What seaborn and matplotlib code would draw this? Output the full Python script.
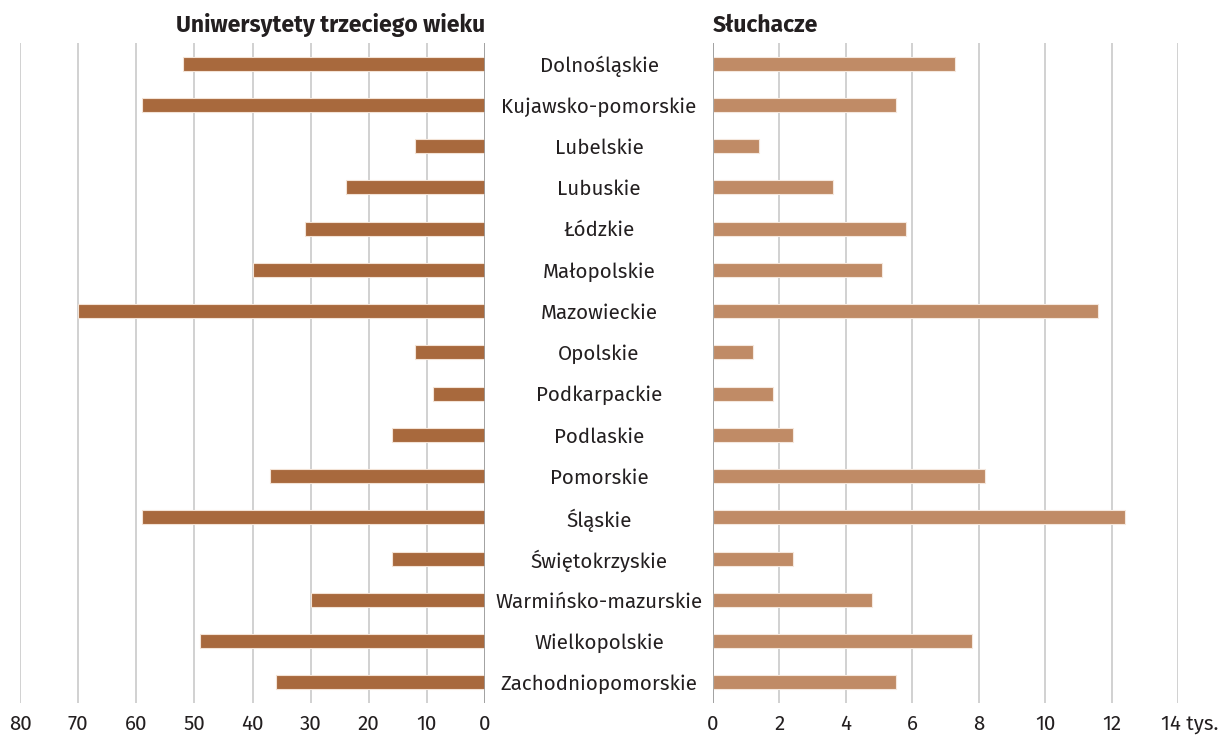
import matplotlib
matplotlib.use("Agg")
import matplotlib.pyplot as plt
import matplotlib.transforms as mtransforms
import seaborn as sns
import pandas as pd
from matplotlib import font_manager

regions = ["Dolnośląskie", "Kujawsko-pomorskie", "Lubelskie", "Lubuskie", "Łódzkie",
           "Małopolskie", "Mazowieckie", "Opolskie", "Podkarpackie", "Podlaskie",
           "Pomorskie", "Śląskie", "Świętokrzyskie", "Warmińsko-mazurskie",
           "Wielkopolskie", "Zachodniopomorskie"]
uniwersytety = [52, 59, 12, 24, 31, 40, 70, 12, 9, 16, 37, 59, 16, 30, 49, 36]
sluchacze = [7.3, 5.5, 1.4, 3.6, 5.8, 5.1, 11.6, 1.2, 1.8, 2.4, 8.2, 12.4, 2.4, 4.8, 7.8, 5.5]
left_ticks = [80, 70, 60, 50, 40, 30, 20, 10, 0]
left_tick_labels = ["80", "70", "60", "50", "40", "30", "20", "10", "0"]
right_ticks = [0, 2, 4, 6, 8, 10, 12, 14]
right_tick_labels = ["0", "2", "4", "6", "8", "10", "12", "14 tys."]
title_left = "Uniwersytety trzeciego wieku"
title_right = "Słuchacze"

sns.set_theme(style="white")
avail = {f.name for f in font_manager.fontManager.ttflist}
fam = "Fira Sans" if "Fira Sans" in avail else ("Roboto" if "Roboto" in avail else "DejaVu Sans")
plt.rcParams["font.family"] = [fam, "DejaVu Sans"]

df = pd.DataFrame({"region": regions, "uni": uniwersytety, "sl": sluchacze})

W, H = 1220, 740
fig = plt.figure(figsize=(W / 100, H / 100), dpi=100)
top, bottom = 43, 703
axL = fig.add_axes([20 / W, 1 - bottom / H, (485 - 20) / W, (bottom - top) / H])
axR = fig.add_axes([713 / W, 1 - bottom / H, (1178 - 713) / W, (bottom - top) / H])

c_left = "#A8693D"
c_right = "#C08B66"
grid_c = "#CACACA"
txt_c = "#231F20"
fs = 14.8

sns.barplot(data=df, x="uni", y="region", ax=axL, color=c_left, width=0.345,
            orient="h", saturation=1, edgecolor="#F3E3D6", linewidth=0.8, zorder=3)
sns.barplot(data=df, x="sl", y="region", ax=axR, color=c_right, width=0.345,
            orient="h", saturation=1, edgecolor="#F5E8DE", linewidth=0.8, zorder=3)

for ax in (axL, axR):
    ax.set_ylim(len(regions) - 0.5, -0.5)
    for s in ax.spines.values():
        s.set_visible(False)
    ax.set_xlabel("")
    ax.set_ylabel("")
    ax.grid(axis="x", color=grid_c, linewidth=1.2, zorder=0)
    ax.tick_params(axis="x", length=0, labelsize=fs, labelcolor=txt_c, pad=8)

axL.set_xlim(80, 0)
axL.set_xticks(left_ticks)
axL.set_xticklabels(left_tick_labels)
axL.set_yticks([])
axL.axvline(0, color="#9A9A9A", linewidth=1.2, zorder=4)

axR.set_xlim(0, 14)
axR.set_xticks(right_ticks)
axR.set_xticklabels(right_tick_labels)
axR.axvline(0, color="#9A9A9A", linewidth=1.2, zorder=4)
axR.set_yticks(range(len(regions)))
axR.set_yticklabels(regions)
axR.tick_params(axis="y", length=0, labelsize=fs, labelcolor=txt_c, pad=82)
for lab in axR.get_yticklabels():
    lab.set_horizontalalignment("center")
last = axR.xaxis.get_major_ticks()[-1].label1
last.set_horizontalalignment("left")
last.set_transform(last.get_transform() +
                   mtransforms.ScaledTranslation(-17 / 100, 0, fig.dpi_scale_trans))

fig.text(485 / W, 1 - 25 / H, title_left, ha="right", va="center",
         fontsize=16.5, fontweight="bold", color=txt_c)
fig.text(713 / W, 1 - 25 / H, title_right, ha="left", va="center",
         fontsize=16.5, fontweight="bold", color=txt_c)

fig.savefig("out.png", dpi=100, facecolor="white")
